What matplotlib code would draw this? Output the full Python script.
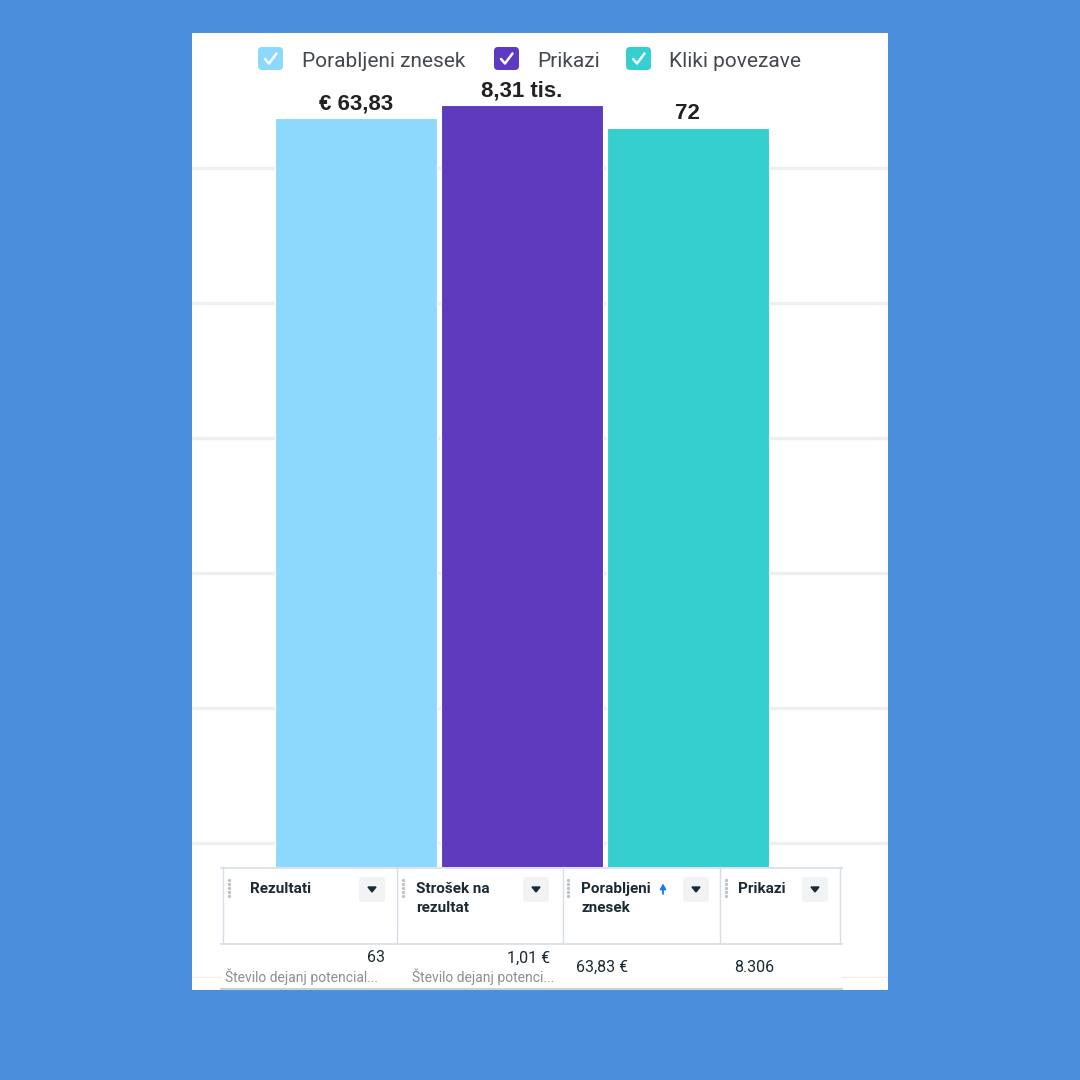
import matplotlib
matplotlib.use("Agg")
import matplotlib.pyplot as plt
from matplotlib.patches import Rectangle, FancyBboxPatch

# ---------------- data ----------------
series_names = ["Porabljeni znesek", "Prikazi", "Kliki povezave"]
value_labels = ["€ 63,83", "8,31 tis.", "72"]
bar_heights = [6.37, 6.47, 6.30]          # relative display heights (each metric on own scale)
bar_colors = ["#8DD9FD", "#5E3ABE", "#35CFCF"]

table_headers = ["Rezultati", "Strošek na\nrezultat", "Porabljeni\nznesek", "Prikazi"]
table_values = ["63", "1,01 €", "63,83 €", "8.306"]
table_subtext = ["Število dejanj potencial...", "Število dejanj potenci...", "", ""]

BG = "#4A8EDC"
TXT = "#1C2B33"
GRAY = "#8A8F96"

fig = plt.figure(figsize=(10.8, 10.8), dpi=100)
fig.patch.set_facecolor(BG)

W = H = 1080.0

# white panel
fig.patches.append(Rectangle((192 / W, 1 - 990 / H), 696 / W, 957 / H,
                             transform=fig.transFigure, facecolor="white",
                             edgecolor="none", zorder=-5))

# ---------------- bar chart ----------------
ax = fig.add_axes([192 / W, 1 - 978 / H, 696 / W, 945 / H])
ax.patch.set_visible(False)
x = list(range(len(bar_heights)))
bars = ax.bar(x, bar_heights, width=0.976, color=bar_colors, edgecolor="white",
              linewidth=0.8, zorder=3)
ax.set_xlim(-0.988, 3.208)
ax.set_ylim(0, 7)
ax.set_yticks(range(0, 7))
ax.grid(axis="y", color="#EFEFEF", linewidth=2.5, zorder=0)
ax.tick_params(left=False, bottom=False, labelleft=False, labelbottom=False)
for s in ax.spines.values():
    s.set_visible(False)
for b, lab in zip(bars, value_labels):
    ax.annotate(lab, (b.get_x() + b.get_width() / 2, b.get_height()),
                xytext=(0, 6), textcoords="offset points", ha="center", va="baseline",
                fontsize=16, fontweight="bold", family="Liberation Sans", color="#222222")

# ---------------- overlay (legend + table) ----------------
ov = fig.add_axes([0, 0, 1, 1])
ov.set_xlim(0, W)
ov.set_ylim(H, 0)
ov.axis("off")
ov.patch.set_visible(False)

# legend
leg_box_x = [258, 494, 626]
leg_text_x = [302, 537, 669]
for bx, tx, name, col in zip(leg_box_x, leg_text_x, series_names, bar_colors):
    ov.add_patch(FancyBboxPatch((bx + 3, 50), 19, 17,
                                boxstyle="round,pad=3,rounding_size=4",
                                facecolor=col, edgecolor="none"))
    ov.plot([bx + 7, bx + 11, bx + 18.5], [59, 63.5, 53.5], color="white",
            lw=1.8, solid_capstyle="round", solid_joinstyle="round")
    ov.text(tx, 67, name, fontsize=15, family="Roboto", color="#444950",
            ha="left", va="baseline")

# table
ov.add_patch(Rectangle((221, 867), 621, 122, facecolor="white", edgecolor="none", zorder=1))
line_col = "#D5DEE6"
ov.plot([221, 842], [867.5, 867.5], color=line_col, lw=1.2, zorder=2)
ov.plot([221, 842], [943.5, 943.5], color=line_col, lw=1.2, zorder=2)
ov.plot([221, 842], [988.5, 988.5], color="#C8D0D8", lw=1.5, zorder=2)
for vx in [223, 397, 563, 720, 840]:
    ov.plot([vx, vx], [867, 943], color=line_col, lw=1.0, zorder=2)

handle_x = [229, 403, 568, 726]
head_x = [250, 416, 581, 738]
btn_x = [359, 523, 683, 802]
for i, hdr in enumerate(table_headers):
    # drag handle dots
    for dy in range(0, 20, 4):
        ov.plot(handle_x[i], 880 + dy, marker="o", ms=1.4, color="#BEC3C9", zorder=3)
    ov.text(head_x[i], 882, hdr, fontsize=11, fontweight="bold", family="Roboto",
            color=TXT, ha="left", va="top", linespacing=1.45, zorder=3)
    # dropdown button
    ov.add_patch(FancyBboxPatch((btn_x[i] + 2, 879), 22, 21,
                                boxstyle="round,pad=2,rounding_size=3",
                                facecolor="#F2F3F5", edgecolor="none", zorder=3))
    cx = btn_x[i] + 13
    ov.fill([cx - 4, cx + 4, cx], [887, 887, 892], color=TXT, zorder=4)

# sort arrow next to "Porabljeni"
ov.annotate("", xy=(663, 883.5), xytext=(663, 894),
            arrowprops=dict(arrowstyle="-|>,head_length=0.3,head_width=0.17",
                            color="#1877F2", lw=1.3, shrinkA=0, shrinkB=0), zorder=4)

# data row
val_right = [385, 550]
sub_x = [225, 412]
val_left = [576, 734]
for i, (val, sub) in enumerate(zip(table_values, table_subtext)):
    if sub:
        ov.text(val_right[i], 958, val, fontsize=11.5, family="Roboto", color=TXT,
                ha="right", va="center", zorder=3)
        ov.text(sub_x[i], 977, sub, fontsize=10, family="Roboto", color=GRAY,
                ha="left", va="center", zorder=3)
    else:
        ov.text(val_left[i - 2], 967, val, fontsize=11.5, family="Roboto", color=TXT,
                ha="left", va="center", zorder=3)

fig.savefig("out.png", dpi=100, facecolor=BG)
